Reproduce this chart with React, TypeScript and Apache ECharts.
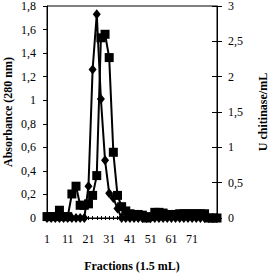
import React, { useEffect, useRef } from "react";
import * as echarts from "echarts";

const fractions = [1, 3, 5, 7, 9, 11, 13, 15, 17, 19, 21, 23, 25, 27, 29, 31, 33, 35, 37, 39, 41, 43, 45, 47, 49, 51, 53, 55, 57, 59, 61, 63, 65, 67, 69, 71, 73, 75, 77, 79, 81, 83];

const absorbance = [0, 0, 0, 0, 0, 0, 0, 0, 0, 0, 0.27, 1.26, 1.73, 1.01, 0.49, 0.21, 0.17, 0.08, 0, 0, 0, 0, 0, 0, 0, 0, 0, 0, 0, 0, 0, 0, 0, 0, 0, 0, 0, 0, 0, 0, 0, 0];

const chitinase = [0.02, 0.02, 0.02, 0.11, 0.02, 0.02, 0.34, 0.45, 0.18, 0.18, 0.2, 0.32, 0.6, 2.55, 2.6, 2.27, 0.93, 0.32, 0.16, 0.1, 0.06, 0.05, 0.05, 0.04, 0, 0.02, 0.08, 0.08, 0.07, 0.05, 0.05, 0.05, 0.06, 0.06, 0.06, 0.06, 0.06, 0.06, 0.06, 0, 0, 0];

const leftTicks = { min: 0, max: 1.8, interval: 0.2 };
const rightTicks = { min: 0, max: 3, interval: 0.5 };

const FONT = "Liberation Serif";
const comma = (v: number) => String(Number(v.toFixed(1))).replace(".", ",");

export default function App() {
  const ref = useRef<HTMLDivElement>(null);
  useEffect(() => {
    if (!ref.current) return;
    const chart = echarts.init(ref.current, null, { renderer: "svg" });
    const labelStyle = { color: "#000", fontFamily: FONT, fontSize: 12 };
    const nameStyle = { color: "#000", fontFamily: FONT, fontSize: 12, fontWeight: "bold" as const };
    chart.setOption({
      animation: false,
      backgroundColor: "#fff",
      textStyle: { fontFamily: FONT },
      grid: {
        left: 47,
        right: 54,
        top: 6,
        bottom: 55,
        show: true,
        borderColor: "#000",
        borderWidth: 1,
        containLabel: false,
        outerBoundsMode: "none",
      },
      xAxis: [
        {
          type: "category",
          data: fractions,
          boundaryGap: false,
          name: "Fractions (1.5 mL)",
          nameLocation: "middle",
          nameGap: 42,
          nameMoveOverlap: false,
          nameTextStyle: nameStyle,
          axisLine: { lineStyle: { color: "#000", width: 1 } },
          axisTick: { interval: 0, length: 2, lineStyle: { color: "#000" } },
          axisLabel: {
            ...labelStyle,
            margin: 15,
            interval: (i: number) => i % 5 === 0 && i <= 35,
          },
          splitLine: { show: false },
        },
        {
          type: "category",
          data: fractions,
          boundaryGap: false,
          position: "bottom",
          axisLine: { show: false },
          axisTick: { interval: 0, inside: true, length: 2, lineStyle: { color: "#000" } },
          axisLabel: { show: false },
          splitLine: { show: false },
        },
      ],
      yAxis: [
        {
          type: "value",
          ...leftTicks,
          position: "left",
          name: "Absorbance (280 nm)",
          nameLocation: "middle",
          nameRotate: 90,
          nameGap: 33,
          nameMoveOverlap: false,
          nameTextStyle: nameStyle,
          axisLine: { show: true, lineStyle: { color: "#000", width: 1 } },
          axisTick: { show: true, length: 4, lineStyle: { color: "#000" } },
          axisLabel: { ...labelStyle, margin: 11, formatter: comma },
          splitLine: { show: false },
        },
        {
          type: "value",
          ...rightTicks,
          position: "right",
          name: "U chitinase/mL",
          nameLocation: "middle",
          nameRotate: 90,
          nameGap: 40,
          nameMoveOverlap: false,
          nameTextStyle: nameStyle,
          axisLine: { show: true, lineStyle: { color: "#000", width: 1 } },
          axisTick: { show: true, length: 5, lineStyle: { color: "#000" } },
          axisLabel: { ...labelStyle, margin: 11, formatter: comma },
          splitLine: { show: false },
        },
        {
          type: "value",
          ...rightTicks,
          position: "right",
          axisLine: { show: false },
          axisTick: { show: true, inside: true, length: 5, lineStyle: { color: "#000" } },
          axisLabel: { show: false },
          splitLine: { show: false },
        },
      ],
      series: [
        {
          name: "Absorbance",
          type: "line",
          yAxisIndex: 0,
          data: absorbance,
          symbol: "diamond",
          symbolSize: [8, 10],
          showAllSymbol: true,
          lineStyle: { color: "#000", width: 2 },
          itemStyle: { color: "#000" },
          z: 3,
        },
        {
          name: "U chitinase",
          type: "line",
          yAxisIndex: 1,
          data: chitinase,
          symbol: "rect",
          symbolSize: 9,
          showAllSymbol: true,
          lineStyle: { color: "#000", width: 2 },
          itemStyle: { color: "#000" },
          z: 4,
        },
      ],
    });
    return () => chart.dispose();
  }, []);
  return <div ref={ref} style={{ width: 271, height: 273, position: "absolute", left: 0, top: 0 }} />;
}
